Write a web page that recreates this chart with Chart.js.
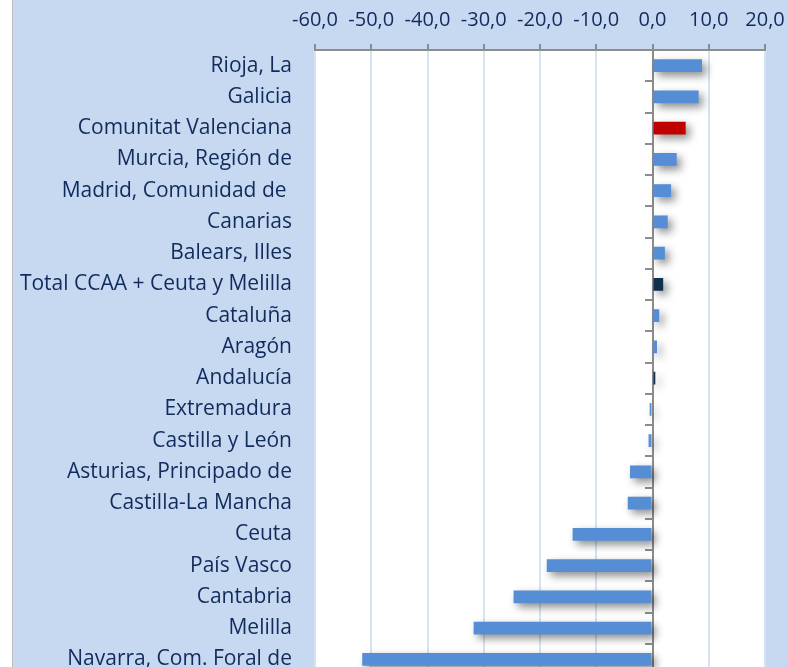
<!DOCTYPE html>
<html lang="es">
<head>
    <meta charset="UTF-8">
    <title>Variación por CCAA</title>
    <script src="https://cdn.jsdelivr.net/npm/chart.js"></script>
    <style>
        html, body { margin: 0; padding: 0; background: #fff; overflow: hidden; }
        .box {
            position: absolute; left: 12px; top: 0;
            width: 774px; height: 683px;
            background: #c6d9f0; border-left: 1px solid #bfbfbf;
        }
    </style>
</head>
<body>
    <div class="box"><canvas id="chart"></canvas></div>

    <script>
        // datos
        const regiones = [
            'Rioja, La', 'Galicia', 'Comunitat Valenciana', 'Murcia, Región de',
            'Madrid, Comunidad de ', 'Canarias', 'Balears, Illes',
            'Total CCAA + Ceuta y Melilla', 'Cataluña', 'Aragón', 'Andalucía',
            'Extremadura', 'Castilla y León', 'Asturias, Principado de',
            'Castilla-La Mancha', 'Ceuta', 'País Vasco', 'Cantabria', 'Melilla',
            'Navarra, Com. Foral de'
        ];
        const valores = [8.8, 8.2, 5.9, 4.3, 3.3, 2.7, 2.2, 1.9, 1.2, 0.8, 0.5,
            -0.5, -0.7, -4.0, -4.4, -14.2, -18.8, -24.7, -31.8, -51.6];
        const ejeMin = -60, ejeMax = 20, paso = 10;

        const azul = '#558ed5', rojo = '#c00000', marino = '#10304f';
        const colores = regiones.map(r =>
            r === 'Comunitat Valenciana' ? rojo :
            (r.startsWith('Total') || r === 'Andalucía') ? marino : azul);

        const textoColor = '#112b5c';
        const gris = '#8c8c8c';
        const fuenteEtiq = { family: 'Open Sans', size: 21 };
        const fuenteEje = { family: 'Open Sans', size: 20 };

        // fondo blanco del área de trazado + sombra de las barras
        const areaBlanca = {
            id: 'areaBlanca',
            beforeDraw(chart) {
                const { ctx, chartArea: a } = chart;
                ctx.save();
                ctx.fillStyle = '#fff';
                ctx.fillRect(a.left, a.top, a.right - a.left, a.bottom - a.top);
                ctx.restore();
            },
            beforeDatasetDraw(chart) {
                const ctx = chart.ctx;
                ctx.save();
                ctx.shadowColor = 'rgba(0,0,0,0.45)';
                ctx.shadowBlur = 8;
                ctx.shadowOffsetX = 4;
                ctx.shadowOffsetY = 4;
            },
            afterDatasetDraw(chart) {
                chart.ctx.restore();
            }
        };

        new Chart(document.getElementById('chart'), {
            type: 'bar',
            data: {
                labels: regiones,
                datasets: [{
                    data: valores,
                    backgroundColor: colores,
                    barPercentage: 0.82,
                    categoryPercentage: 0.5
                }]
            },
            options: {
                indexAxis: 'y',
                responsive: true,
                maintainAspectRatio: false,
                animation: false,
                layout: { padding: { top: 0, right: 22, bottom: 8, left: 0 } },
                plugins: { legend: { display: false }, tooltip: { enabled: false } },
                scales: {
                    x: {
                        position: 'top',
                        min: ejeMin, max: ejeMax,
                        afterFit: s => { s.height = 50; s.paddingLeft = 0; s.paddingRight = 0; },
                        ticks: {
                            stepSize: paso,
                            color: textoColor,
                            font: fuenteEje,
                            padding: 12,
                            callback: v => v.toFixed(1).replace('.', ',')
                        },
                        grid: { color: '#d6e3f3', lineWidth: 2, tickColor: gris, tickLength: 6 },
                        border: { color: gris, width: 2 }
                    },
                    y: {
                        type: 'category',
                        position: { x: 0 },
                        offset: true,
                        ticks: { display: false },
                        grid: {
                            offset: true, drawOnChartArea: false,
                            color: gris, lineWidth: 2, tickLength: 7
                        },
                        border: { color: gris, width: 2 }
                    },
                    y2: {
                        type: 'category',
                        position: 'left',
                        labels: regiones,
                        offset: true,
                        afterFit: s => { s.width = 302; s.paddingTop = 0; s.paddingBottom = 0; },
                        ticks: { color: textoColor, font: fuenteEtiq, padding: 15 },
                        grid: { display: false },
                        border: { display: false }
                    }
                }
            },
            plugins: [areaBlanca]
        });
    </script>
</body>
</html>
